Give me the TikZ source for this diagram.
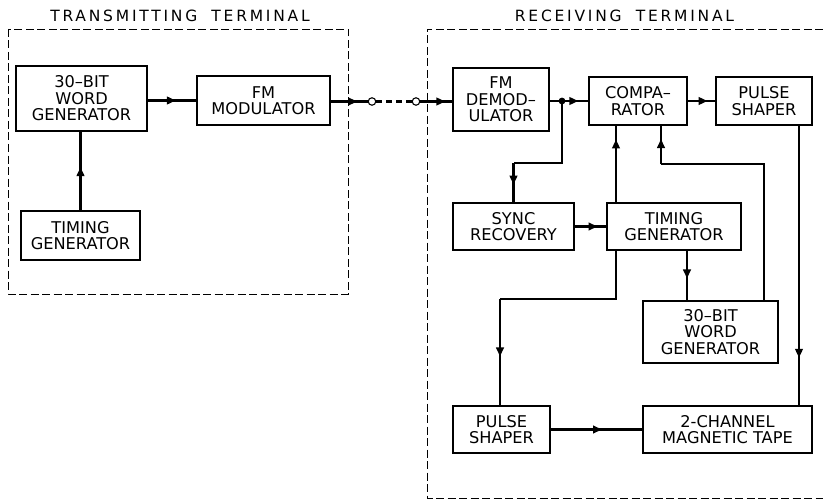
\documentclass[tikz,border=0pt]{standalone}
\usepackage{fontspec}
\setmainfont{DejaVu Sans}
\newfontfamily\titlefont[LetterSpace=18]{DejaVu Sans}
\usetikzlibrary{arrows.meta,decorations.markings}

\tikzset{
  blk/.style={draw,line width=1.1pt,align=center,inner sep=0pt,
    font=\fontsize{16.2}{16.5}\selectfont},
  flow/.style={line width=2.8pt},
  arr/.style={postaction={decorate},decoration={markings,
    mark=at position #1 with {\arrow{Triangle[length=9pt,width=7.5pt]}}}},
  frame/.style={line width=0.9pt,dash pattern=on 8pt off 3.5pt},
  link/.style={circle,draw,fill=white,line width=1.1pt,inner sep=0pt,minimum size=7.5pt},
  ttl/.style={font=\titlefont\fontsize{15.5}{16}\selectfont},
}

\begin{document}
\begin{tikzpicture}[x=1pt,y=-1pt]
  \useasboundingbox (0,0) rectangle (823,503);
  % terminals
  \draw[frame] (8,29) rectangle (348,294);
  \draw[frame] (823,29) -- (427,29) -- (427,498) -- (823,498);
  \node[ttl] (txt) at (180,15.5) {TRANSMITTING\hspace{14pt}TERMINAL};
  \node[ttl] (rxt) at (624.5,15.5) {RECEIVING\hspace{14pt}TERMINAL};

  % transmitter
  \node[blk,minimum width=131pt,minimum height=65pt] (twg) at (81.5,98.5) {30--BIT\\WORD\\GENERATOR};
  \node[blk,minimum width=133pt,minimum height=49pt] (fmm) at (263.5,100.5) {FM\\MODULATOR};
  \node[blk,minimum width=119pt,minimum height=49pt] (ttg) at (80.5,235.5) {TIMING\\GENERATOR};

  % receiver
  \node[blk,minimum width=96pt,minimum height=63pt] (fmd) at (501,99.5) {FM\\DEMOD--\\ULATOR};
  \node[blk,minimum width=98pt,minimum height=48pt] (cmp) at (638,101) {COMPA--\\RATOR};
  \node[blk,minimum width=96pt,minimum height=48pt] (rps) at (764,101) {PULSE\\SHAPER};
  \node[blk,minimum width=121pt,minimum height=47pt] (syn) at (513.5,226.5) {SYNC\\RECOVERY};
  \node[blk,minimum width=134pt,minimum height=47pt] (rtg) at (674,226.5) {TIMING\\GENERATOR};
  \node[blk,minimum width=135pt,minimum height=62pt] (rwg) at (710.5,332) {30--BIT\\WORD\\GENERATOR};
  \node[blk,minimum width=97pt,minimum height=47pt] (bps) at (501.5,429.5) {PULSE\\SHAPER};
  \node[blk,minimum width=169pt,minimum height=47pt] (tape) at (727.5,429.5) {2-CHANNEL\\MAGNETIC TAPE};

  % link
  \node[link] (c1) at (372,101.5) {};
  \node[link] (c2) at (416,101.5) {};

  % bends
  \coordinate (j) at (562,101);
  \coordinate (sb) at (513.5,163);
  \coordinate (ca) at (616,0);
  \coordinate (cb) at (661,164);
  \coordinate (wb) at (764,164);
  \coordinate (tw) at (687,0);
  \coordinate (tb) at (616,299);
  \coordinate (pb) at (500,299);
  \coordinate (ps) at (799,0);

  \draw[flow,arr=0.58] (twg.east |- fmm.west) -- (fmm.west);
  \draw[flow,arr=0.55] (ttg.north) -- (ttg.north |- twg.south);
  \draw[flow,arr=0.72] (fmm.east |- c1) -- (c1);
  \draw[line width=2.4pt,dash pattern=on 6pt off 4pt] (c1) -- (c2);
  \draw[flow,arr=0.78] (c2) -- (c2 -| fmd.west);

  \fill (j) circle (3.4pt);
  \draw[flow] (j -| fmd.east) -- (j);
  \draw[flow,arr=0.62] (j) -- (j -| cmp.west);
  \draw[flow] (j) -- (j |- sb) -- (sb);
  \draw[flow,arr=0.55] (sb) -- (syn.north);
  \draw[flow,arr=0.72] (cmp.east) -- (rps.west);
  \draw[flow,arr=0.72] (syn.east) -- (syn.east -| rtg.west);
  \draw[flow,arr=0.82] (rtg.north -| ca) -- (cmp.south -| ca);
  \draw[flow] (rwg.north -| wb) -- (wb) -- (cb);
  \draw[flow,arr=0.65] (cb) -- (cb |- cmp.south);
  \draw[flow,arr=0.56] (rtg.south -| tw) -- (rwg.north -| tw);
  \draw[flow] (rtg.south -| tb) -- (tb) -- (pb);
  \draw[flow,arr=0.54] (pb) -- (bps.north -| pb);
  \draw[flow,arr=0.83] (rps.south -| ps) -- (tape.north -| ps);
  \draw[flow,arr=0.56] (bps.east) -- (tape.west);
\end{tikzpicture}
\end{document}
